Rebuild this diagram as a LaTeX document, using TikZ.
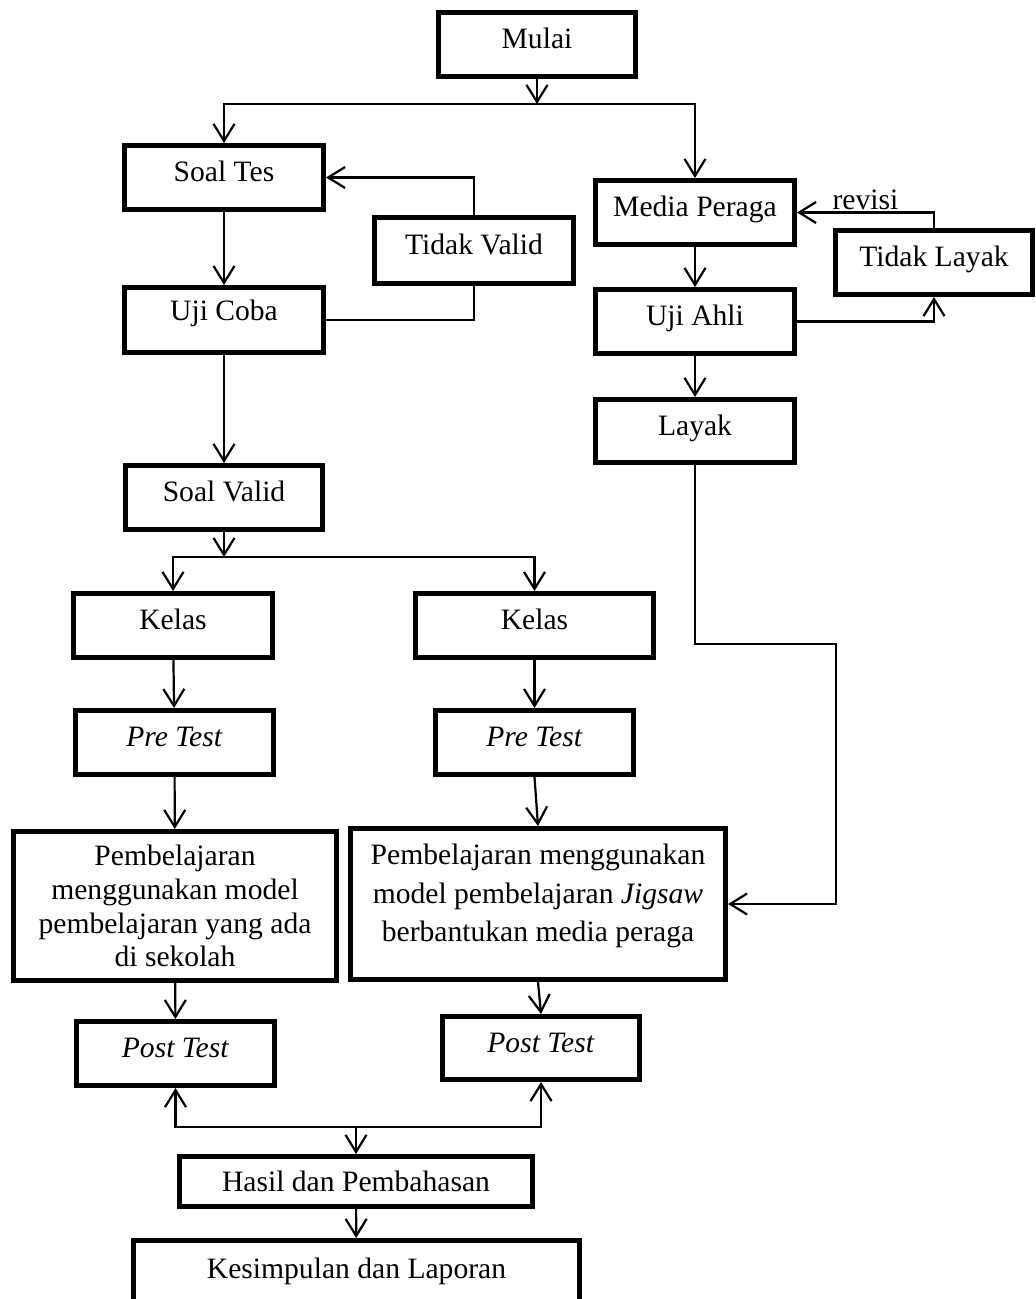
\documentclass[tikz,border=0pt]{standalone}
\usepackage{fontspec}
\setmainfont{Liberation Serif}
\usetikzlibrary{arrows.meta}
\begin{document}
\begin{tikzpicture}[x=0.5pt,y=-0.5pt,
  box/.style={draw, line width=2.3pt, inner sep=0pt,
    font=\fontsize{14.8}{17}\selectfont, text height=10pt, text depth=6pt},
  bw/.style={minimum width=#1*0.5pt-2.3pt},
  bh/.style={minimum height=#1*0.5pt-2.3pt},
  conn/.style={line width=1.1pt},
  arr/.style={conn, -{Straight Barb[length=8.5pt,width=10.5pt]}},
  lbl/.style={font=\fontsize{14.8}{17}\selectfont, inner sep=1pt}]
\useasboundingbox (0,0) rectangle (1036,1299);
\clip (0,0) rectangle (1036,1299);
% nodes
\node[box,bw=202,bh=69] (mulai) at (537,44.5) {Mulai};
\node[box,bw=204,bh=69] (soaltes) at (224,177.5) {Soal Tes};
\node[box,bw=204,bh=71] (tidakvalid) at (474,250.5) {Tidak Valid};
\node[box,bw=204,bh=70,text depth=9pt] (ujicoba) at (224,320) {Uji Coba};
\node[box,bw=202,bh=69] (soalvalid) at (224,497.5) {Soal Valid};
\node[box,bw=204,bh=69] (media) at (695,212.5) {Media Peraga};
\node[box,bw=202,bh=69] (tidaklayak) at (934,262.5) {Tidak Layak};
\node[box,bw=204,bh=69] (ujiahli) at (695,321.5) {Uji Ahli};
\node[box,bw=204,bh=68] (layak) at (695,431) {Layak};
\node[box,bw=204,bh=69] (kelasL) at (173,625.5) {Kelas};
\node[box,bw=243,bh=69] (kelasR) at (534.5,625.5) {Kelas};
\node[box,bw=203,bh=69] (preL) at (174.5,742.5) {\textit{Pre Test}};
\node[box,bw=203,bh=69] (preR) at (534.5,742.5) {\textit{Pre Test}};
\node[box,bw=328,bh=154,align=center,text height={},text depth={},
  font=\fontsize{14.8}{16.9}\selectfont] (pembL) at (175,906)
  {Pembelajaran\\menggunakan model\\pembelajaran yang ada\\di sekolah};
\node[box,bw=380,bh=156,align=center,text height={},text depth=11pt,
  font=\fontsize{14.8}{19.25}\selectfont] (pembR) at (538,904)
  {Pembelajaran menggunakan\\model pembelajaran \textit{Jigsaw}\\berbantukan media peraga};
\node[box,bw=203,bh=69] (postL) at (175.5,1053.5) {\textit{Post Test}};
\node[box,bw=202,bh=68] (postR) at (541,1048) {\textit{Post Test}};
\node[box,bw=358,bh=55,text depth=0.4pt] (hasil) at (356,1181.5) {Hasil dan Pembahasan};
\node[box,bw=451,anchor=north,inner ysep=7pt,text height=12pt,text depth=40pt]
  (kesimpulan) at (356.5,1238) {Kesimpulan dan Laporan};
% junctions
\coordinate (j1) at (537,104);
\coordinate (j2) at (224,557);
\coordinate (j3) at (356,1127);
\coordinate (c1) at (836,644);
% connectors
\draw[arr] (mulai) -- (j1);
\draw[arr] (j1) -| (soaltes.north);
\draw[arr] (j1) -| (media.north);
\draw[arr] (soaltes) -- (ujicoba);
\draw[arr] (tidakvalid.north) |- (soaltes.east);
\draw[conn] (ujicoba.east) -| (tidakvalid.south);
\draw[arr] (ujicoba) -- (soalvalid);
\draw[arr] (soalvalid) -- (j2);
\draw[arr] (j2) -| (kelasL.north);
\draw[arr] (j2) -| (kelasR.north);
\draw[arr] (kelasL) -- (preL);
\draw[arr] (kelasR) -- (preR);
\draw[arr] (preL) -- (pembL);
\draw[arr] (preR.south) -- (pembR.north);
\draw[arr] (pembL) -- (postL);
\draw[arr] (pembR.south) -- (postR.north);
\draw[arr] (j3) -| (postL.south);
\draw[arr] (j3) -| (postR.south);
\draw[arr] (j3) -- (hasil);
\draw[arr] (hasil) -- (kesimpulan);
\draw[arr] (media) -- (ujiahli);
\draw[arr] (ujiahli) -- (layak);
\draw[arr] (ujiahli.east) -| (tidaklayak.south);
\draw[arr] (tidaklayak.north) |- node[lbl,pos=0.75,above] (revisi) {revisi} (media.east);
\draw[arr] (layak) |- (c1) |- (pembR.east);
\end{tikzpicture}
\end{document}
